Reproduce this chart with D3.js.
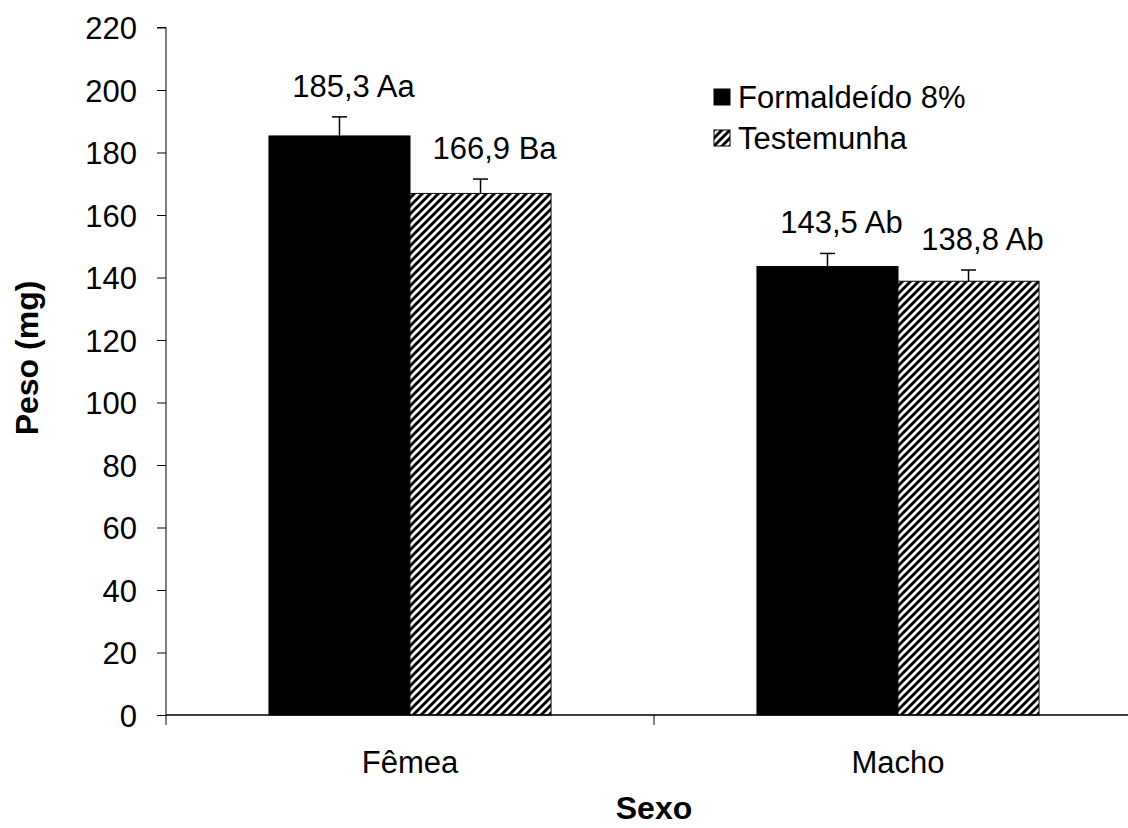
<!DOCTYPE html>
<html>
<head>
<meta charset="utf-8">
<script src="https://cdn.jsdelivr.net/npm/d3@7"></script>
<style>
    body { margin: 0; background: #fff; }
    svg text { font-family: "Liberation Sans", Arial, sans-serif; fill: #000; }
</style>
</head>
<body>
<script>
const categories = ["Fêmea", "Macho"]
const series = ["Formaldeído 8%", "Testemunha"]
const formaldeido = [185.3, 143.5]
const testemunha = [166.9, 138.8]
const formaldeidoErr = [6.1, 4.2]
const testemunhaErr = [4.6, 3.6]
const formaldeidoLetters = ["Aa", "Ab"]
const testemunhaLetters = ["Ba", "Ab"]
const yTicks = [0, 20, 40, 60, 80, 100, 120, 140, 160, 180, 200, 220]

const width = 1128
const height = 828
const margin = { left: 166, right: -14, top: 27.5, bottom: 113 }
const fontSize = 31

const svg = d3.select("body").append("svg")
    .attr("width", width)
    .attr("height", height)

/* hatch pattern */
const defs = svg.append("defs")
const pattern = defs.append("pattern")
    .attr("id", "hatch")
    .attr("patternUnits", "userSpaceOnUse")
    .attr("width", 8)
    .attr("height", 8)
pattern.append("rect").attr("width", 8).attr("height", 8).attr("fill", "#fff")
pattern.append("path")
    .attr("d", "M-2,2 L2,-2 M0,8 L8,0 M6,10 L10,6")
    .attr("stroke", "#000")
    .attr("stroke-width", 2.9)

const x = d3.scaleBand()
    .domain(categories)
    .range([margin.left, width - margin.right])
    .paddingInner(0)
    .paddingOuter(0)

const xSub = d3.scaleBand()
    .domain(series)
    .range([0, x.bandwidth()])
    .paddingInner(0)
    .paddingOuter(0.73)

const y = d3.scaleLinear()
    .domain([0, 220])
    .range([height - margin.bottom, margin.top])

const data = []
categories.forEach((c, i) => {
    data.push({ cat: c, s: series[0], v: formaldeido[i], e: formaldeidoErr[i], l: formaldeidoLetters[i], fill: "#000" })
    data.push({ cat: c, s: series[1], v: testemunha[i], e: testemunhaErr[i], l: testemunhaLetters[i], fill: "url(#hatch)" })
})

/* bars */
svg.selectAll("rect.bar")
    .data(data)
    .enter()
    .append("rect")
    .attr("class", "bar")
    .attr("x", d => x(d.cat) + xSub(d.s))
    .attr("y", d => y(d.v))
    .attr("width", xSub.bandwidth())
    .attr("height", d => y(0) - y(d.v))
    .attr("fill", d => d.fill)
    .attr("stroke", "#000")
    .attr("stroke-width", 1)

/* error bars */
const errG = svg.append("g").attr("stroke", "#000").attr("stroke-width", 1.5)
data.forEach(d => {
    const cx = x(d.cat) + xSub(d.s) + xSub.bandwidth() / 2
    errG.append("line")
        .attr("x1", cx).attr("x2", cx)
        .attr("y1", y(d.v)).attr("y2", y(d.v + d.e))
    errG.append("line")
        .attr("x1", cx - 7.5).attr("x2", cx + 7.5)
        .attr("y1", y(d.v + d.e)).attr("y2", y(d.v + d.e))
})

/* value labels */
svg.selectAll("text.vlabel")
    .data(data)
    .enter()
    .append("text")
    .attr("class", "vlabel")
    .attr("x", d => x(d.cat) + xSub(d.s) + xSub.bandwidth() / 2 + 14)
    .attr("y", d => y(d.v + d.e) - 20)
    .attr("text-anchor", "middle")
    .attr("font-size", fontSize)
    .text(d => d.v.toFixed(1).replace(".", ",") + " " + d.l)

/* y axis */
const yAxis = d3.axisLeft(y)
    .tickValues(yTicks)
    .tickSize(9)
    .tickPadding(20)
svg.append("g")
    .attr("transform", `translate(${margin.left}, 0)`)
    .call(yAxis)
    .call(g => g.selectAll("text").attr("font-size", fontSize).attr("dy", "0.36em"))
    .call(g => g.selectAll("line, path").attr("stroke", "#000"))
    .call(g => g.select(".domain").attr("d", `M-9,${y(220)}H0V${y(0)}`))

/* x axis */
const xAxisG = svg.append("g")
    .attr("transform", `translate(0, ${y(0)})`)
xAxisG.append("line")
    .attr("x1", margin.left).attr("x2", width - margin.right)
    .attr("y1", 0).attr("y2", 0)
    .attr("stroke", "#000").attr("stroke-width", 1.5)
const xTickPos = categories.map(c => x(c)).concat([x.range()[1]])
xAxisG.selectAll("line.tick")
    .data(xTickPos)
    .enter()
    .append("line")
    .attr("class", "tick")
    .attr("x1", d => d).attr("x2", d => d)
    .attr("y1", 0).attr("y2", 10)
    .attr("stroke", "#000")
xAxisG.selectAll("text")
    .data(categories)
    .enter()
    .append("text")
    .attr("x", d => x(d) + x.bandwidth() / 2)
    .attr("y", 58)
    .attr("text-anchor", "middle")
    .attr("font-size", fontSize)
    .text(d => d)

/* axis titles */
svg.append("text")
    .attr("x", (x.range()[0] + x.range()[1]) / 2)
    .attr("y", 819)
    .attr("text-anchor", "middle")
    .attr("font-size", 32)
    .attr("font-weight", "bold")
    .text("Sexo")

svg.append("text")
    .attr("transform", `translate(38, 358) rotate(-90)`)
    .attr("text-anchor", "middle")
    .attr("font-size", 32)
    .attr("font-weight", "bold")
    .text("Peso (mg)")

/* legend */
const legend = svg.append("g").attr("transform", "translate(714, 89)")
series.forEach((s, i) => {
    const row = legend.append("g").attr("transform", `translate(0, ${i * 41})`)
    row.append("rect")
        .attr("width", 16).attr("height", 16)
        .attr("fill", i === 0 ? "#000" : "url(#hatch)")
        .attr("stroke", "#000")
    row.append("text")
        .attr("x", 24)
        .attr("y", 19)
        .attr("font-size", fontSize)
        .text(s)
})
</script>
</body>
</html>
